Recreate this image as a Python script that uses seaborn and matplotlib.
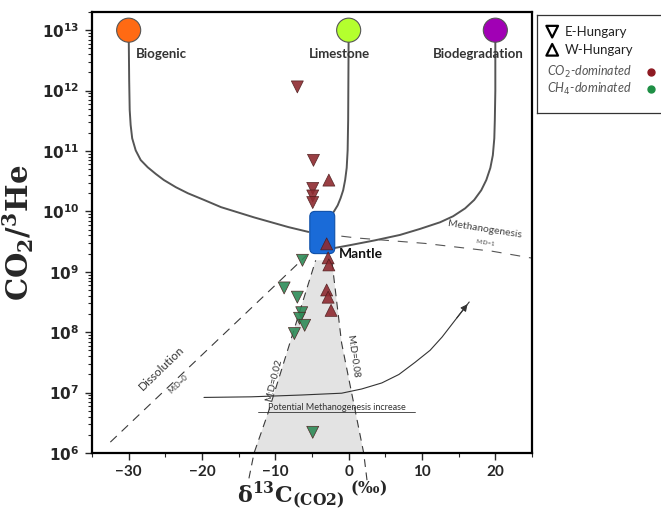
import numpy as np
import pandas as pd
import matplotlib
matplotlib.use("Agg")
import matplotlib.pyplot as plt
import seaborn as sns
from matplotlib.patches import FancyBboxPatch
from matplotlib.ticker import FixedLocator, FuncFormatter, LogLocator, NullFormatter

# ---- sample data ----
e_co2_x = [-7.0, -4.8, -4.9, -4.9, -4.9]
e_co2_y = [1.15e12, 7.0e10, 2.4e10, 1.8e10, 1.4e10]
w_co2_x = [-2.7, -3.0, -2.8, -2.7, -3.0, -2.8, -2.4]
w_co2_y = [3.3e10, 2.9e9, 1.7e9, 1.3e9, 5.0e8, 3.8e8, 2.3e8]
e_ch4_x = [-6.3, -8.8, -7.0, -6.4, -6.7, -6.0, -7.4, -4.9]
e_ch4_y = [1.55e9, 5.4e8, 3.8e8, 2.1e8, 1.7e8, 1.3e8, 9.5e7, 2.2e6]

# end-members
end_names = ["Biogenic", "Limestone", "Biodegradation"]
end_x = [-30, 0, 20]
end_y = [1e13, 1e13, 1e13]
end_colors = ["#FF6A13", "#B4FF2E", "#A100B5"]

# mixing curves (traced, log10 of y)
bio_x = [-30, -29.93, -29.86, -29.73, -29.52, -29.04, -28.36, -27.40, -26.30, -25.21,
         -23.56, -21.92, -19.73, -17.40, -12.88, -8.22, -5.48]
bio_y = [13, 12.17, 11.68, 11.43, 11.21, 11.01, 10.85, 10.73, 10.62, 10.52,
         10.40, 10.30, 10.19, 10.07, 9.90, 9.74, 9.66]
lim_x = [0, -0.07, -0.14, -0.27, -0.48, -0.75, -1.1, -1.5, -2.05]
lim_y = [13, 11.51, 11.01, 10.72, 10.52, 10.35, 10.22, 10.10, 9.99]
deg_x = [20, 20, 19.93, 19.86, 19.66, 19.32, 18.77, 18.08, 17.12, 15.88, 14.25,
         12.47, 9.73, 6.99, 3.55, 0.14, -2.1]
deg_y = [13, 12.0, 11.51, 11.21, 10.93, 10.72, 10.52, 10.35, 10.19, 10.05, 9.92,
         9.82, 9.71, 9.61, 9.52, 9.44, 9.39]

# model lines (log10 of y)
diss_x = [-32.5, -5.75]
diss_y = [6.18, 9.27]
md002_x = [-13.6, -12.9, -11.0, -4.5]
md002_y = [5.58, 6.0, 6.66, 9.19]
md008_x = [2.5, 2.05, -0.96, -2.3]
md008_y = [5.55, 6.0, 7.82, 9.19]
meth_x = [-1.0, 1.1, 10.4, 19.6, 25.3]
meth_y = [9.59, 9.56, 9.47, 9.34, 9.22]
arrow_x = [-19.73, -13.29, -6.44, -0.96, 1.78, 4.52, 6.85, 9.04, 11.10, 12.74, 14.52, 16.44]
arrow_y = [6.92, 6.93, 6.96, 6.99, 7.06, 7.16, 7.30, 7.50, 7.70, 7.92, 8.20, 8.50]

df = pd.DataFrame({
    "x": e_co2_x + w_co2_x + e_ch4_x,
    "y": e_co2_y + w_co2_y + e_ch4_y,
    "region": ["E-Hungary"] * len(e_co2_x) + ["W-Hungary"] * len(w_co2_x) + ["E-Hungary"] * len(e_ch4_x),
    "gas": ["CO2"] * (len(e_co2_x) + len(w_co2_x)) + ["CH4"] * len(e_ch4_x),
})

sns.set_style("white")
plt.rcParams["font.family"] = ["Lato", "DejaVu Sans"]

fig = plt.figure(figsize=(6.61, 5.32), dpi=100)
ax = fig.add_axes([92 / 661, 1 - 453 / 532, 440 / 661, 441 / 532])
ax.set_yscale("log")
xmin, xmax = -35, 25
ymin, ymax = 1e6, 2e13
ax.set_xlim(xmin, xmax)
ax.set_ylim(ymin, ymax)


def pw(vals):
    return [10 ** v for v in vals]


line_c = "#3a3a3a"
# gray field between M:D=0.02 and M:D=0.08
ax.fill(md002_x + md008_x[::-1], pw(md002_y + md008_y[::-1]), color="#E3E3E3", zorder=0, lw=0)

for xs, ys in [(md002_x, md002_y), (md008_x, md008_y)]:
    ax.plot(xs, pw(ys), color=line_c, lw=0.8, dashes=(7, 5), clip_on=False, zorder=1)
ax.plot(diss_x, pw(diss_y), color=line_c, lw=0.8, dashes=(8, 6), zorder=1)
ax.plot(meth_x, pw(meth_y), color="#555555", lw=0.8, dashes=(9, 8), zorder=1)

# mixing curves
for xs, ys in [(bio_x, bio_y), (lim_x, lim_y), (deg_x, deg_y)]:
    ax.plot(xs, pw(ys), color="#555555", lw=1.4, zorder=2, solid_joinstyle="round")

# arrow
ax.plot(arrow_x, pw(arrow_y), color="#333333", lw=0.8, zorder=2)
ax.annotate("", xy=(arrow_x[-1], 10 ** arrow_y[-1]), xytext=(arrow_x[-2], 10 ** arrow_y[-2]),
            arrowprops=dict(arrowstyle="-|>", color="#333333", lw=0.8, mutation_scale=10))


# mantle box (axes fraction)
def frac(x, y):
    return (x - xmin) / (xmax - xmin), (np.log10(y) - np.log10(ymin)) / (np.log10(ymax) - np.log10(ymin))


bx0, by0 = frac(-5.3, 2.0e9)
bx1, by1 = frac(-1.9, 1.0e10)
box = FancyBboxPatch((bx0, by0), bx1 - bx0, by1 - by0, boxstyle="round,pad=0,rounding_size=0.012",
                     transform=ax.transAxes, facecolor="#1A6BD8", edgecolor="#0E4FA8", lw=0.8, zorder=3)
ax.add_patch(box)

# data points
sns.scatterplot(data=df, x="x", y="y", hue="gas", style="region",
                markers={"E-Hungary": "v", "W-Hungary": "^"},
                palette={"CO2": "#8E2A30", "CH4": "#2E8B57"},
                s=75, edgecolor="#4a1a1a", linewidth=0.5, alpha=0.9, legend=False, ax=ax, zorder=4)

# end-members
ax.scatter(end_x, end_y, s=300, c=end_colors, edgecolors="#555555", linewidths=0.8, zorder=5, clip_on=False)
ax.text(-29, 10 ** 12.6, end_names[0], fontsize=9.5, fontweight="bold", color="#333333", ha="left", va="center")
ax.text(-1.2, 10 ** 12.6, end_names[1], fontsize=9.5, fontweight="bold", color="#333333", ha="center", va="center")
ax.text(17.7, 10 ** 12.6, end_names[2], fontsize=9.5, fontweight="bold", color="#333333", ha="center", va="center")

# annotations
ax.text(-1.3, 10 ** 9.3, "Mantle", fontsize=10, fontweight="bold", color="#111111", ha="left", va="center")
ax.text(18.6, 10 ** 9.70, "Methanogenesis", fontsize=7.5, color="#444444", ha="center", va="center", rotation=-9)
ax.text(18.6, 10 ** 9.47, "M:D=1", fontsize=4.5, color="#444444", ha="center", va="center", rotation=-9)
ax.text(-25.5, 10 ** 7.40, "Dissolution", fontsize=8.5, color="#333333", ha="center", va="center", rotation=44)
ax.text(-23.3, 10 ** 7.15, "M:D=0", fontsize=5.5, color="#333333", ha="center", va="center", rotation=44)
ax.text(-10.2, 10 ** 7.2, "M:D=0.02", fontsize=7, color="#333333", ha="center", va="center", rotation=76)
ax.text(0.6, 10 ** 7.6, "M:D=0.08", fontsize=7, color="#333333", ha="center", va="center", rotation=-82)
ax.text(-1.6, 10 ** 6.76, "Potential Methanogenesis increase", fontsize=6.5, color="#333333",
        ha="center", va="center")
ax.plot([-12.3, 9.0], [10 ** 6.68, 10 ** 6.68], color="#333333", lw=0.6, zorder=2)

# axes styling
for sp in ax.spines.values():
    sp.set_color("black")
    sp.set_linewidth(1.6)
ax.set_xticks([-30, -20, -10, 0, 10, 20])
ax.xaxis.set_minor_locator(FixedLocator([-35, -25, -15, -5, 5, 15, 25]))
ax.yaxis.set_major_locator(LogLocator(base=10, numticks=20))
ax.yaxis.set_minor_locator(LogLocator(base=10, subs=np.arange(2, 10), numticks=20))
ax.yaxis.set_minor_formatter(NullFormatter())
ax.yaxis.set_major_formatter(FuncFormatter(lambda v, p: r"$\mathbf{10^{%d}}$" % round(np.log10(v))))
ax.tick_params(axis="both", which="major", direction="out", length=5, width=1.0, labelsize=11,
               bottom=True, left=True, top=False, right=False, pad=4)
ax.tick_params(axis="both", which="minor", direction="out", length=3, width=0.8,
               bottom=True, left=True, top=False, right=False)
for lab in ax.get_xticklabels():
    lab.set_fontweight("bold")
ax.set_xlabel(r"$\mathbf{\delta^{13}C_{(CO2)}}$ $^{\mathbf{(‰)}}$", fontsize=16,
              math_fontfamily="dejavuserif", labelpad=0)
ax.set_ylabel(r"$\mathbf{CO_2/^3He}$", fontsize=21, math_fontfamily="dejavuserif", labelpad=4)

# legend box
lg = fig.add_axes([537 / 661, 1 - 113 / 532, 130 / 661, 98 / 532])
lg.set_xlim(0, 1)
lg.set_ylim(0, 1)
lg.set_xticks([])
lg.set_yticks([])
for sp in lg.spines.values():
    sp.set_color("#333333")
    sp.set_linewidth(0.9)
lg.scatter([0.117], [0.83], marker="v", s=70, facecolors="none", edgecolors="black", linewidths=1.6)
lg.scatter([0.117], [0.645], marker="^", s=70, facecolors="none", edgecolors="black", linewidths=1.6)
lg.text(0.21, 0.83, "E-Hungary", fontsize=9.5, va="center", color="#222222")
lg.text(0.21, 0.645, "W-Hungary", fontsize=9.5, va="center", color="#222222")
lg.text(0.075, 0.42, r"CO$_2$-dominated", fontsize=9, style="italic", va="center", color="#555555")
lg.text(0.075, 0.245, r"CH$_4$-dominated", fontsize=9, style="italic", va="center", color="#555555")
lg.scatter([0.875], [0.42], s=25, color="#8E1A22")
lg.scatter([0.875], [0.245], s=25, color="#1E8F45")

fig.savefig("out.png", dpi=100)
